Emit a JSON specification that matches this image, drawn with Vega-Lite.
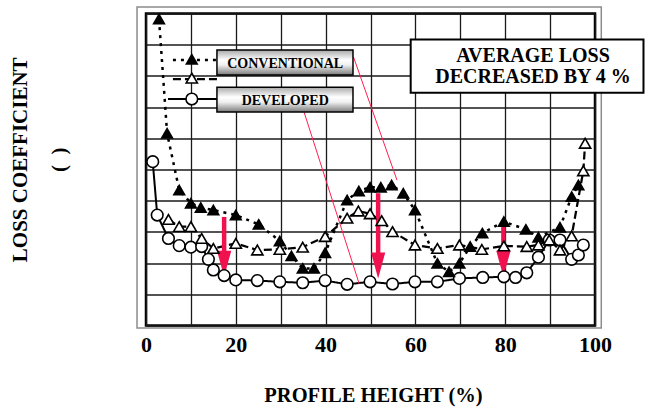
{
  "$schema": "https://vega.github.io/schema/vega-lite/v6.json",
  "width": 449,
  "height": 312,
  "autosize": {"type": "none"},
  "padding": {"left": 146, "top": 13.5, "right": 52, "bottom": 82.5},
  "config": {
    "view": {"stroke": "black", "strokeWidth": 2.5},
    "font": "Liberation Serif",
    "axisX": {
      "values": [0, 10, 20, 30, 40, 50, 60, 70, 80, 90, 100],
      "labelExpr": "datum.value % 20 === 0 ? datum.label : ''",
      "grid": true, "gridColor": "#1a1a1a", "gridWidth": 1.3,
      "ticks": false, "tickSize": 0, "domain": false,
      "labelFont": "Liberation Serif", "labelFontWeight": "bold", "labelFontSize": 22, "labelColor": "black",
      "labelPadding": 25.5, "labelBaseline": "alphabetic", "labelFlush": false, "labelOverlap": false,
      "titleFont": "Liberation Serif", "titleFontWeight": "bold", "titleFontSize": 20.5, "titleColor": "black",
      "titleX": 227, "titleY": 76, "titleAlign": "center", "titleBaseline": "alphabetic"
    },
    "axisY": {
      "values": [0, 1, 2, 3, 4, 5, 6, 7, 8, 9, 10],
      "grid": true, "gridColor": "#1a1a1a", "gridWidth": 1.3,
      "ticks": false, "labels": false, "domain": false,
      "titleFont": "Liberation Serif", "titleFontWeight": "bold", "titleFontSize": 21, "titleColor": "black",
      "titleAngle": 270, "titleX": -119.3, "titleY": 145.8, "titleAlign": "center", "titleBaseline": "alphabetic",
      "titleLineHeight": 39
    }
  },
  "datasets": {
    "curves": [
      {"s": "dev", "x": 1.5, "y": 5.25}, {"s": "dev", "x": 2.5, "y": 3.54}, {"s": "dev", "x": 5.0, "y": 2.79},
      {"s": "dev", "x": 7.4, "y": 2.56}, {"s": "dev", "x": 10.0, "y": 2.51}, {"s": "dev", "x": 12.4, "y": 2.53},
      {"s": "dev", "x": 13.9, "y": 2.12}, {"s": "dev", "x": 15.0, "y": 1.78}, {"s": "dev", "x": 17.4, "y": 1.6},
      {"s": "dev", "x": 20.0, "y": 1.46}, {"s": "dev", "x": 24.8, "y": 1.44}, {"s": "dev", "x": 29.8, "y": 1.4},
      {"s": "dev", "x": 34.9, "y": 1.37}, {"s": "dev", "x": 39.9, "y": 1.44}, {"s": "dev", "x": 44.8, "y": 1.32},
      {"s": "dev", "x": 49.9, "y": 1.4}, {"s": "dev", "x": 54.9, "y": 1.33}, {"s": "dev", "x": 59.9, "y": 1.4},
      {"s": "dev", "x": 64.9, "y": 1.4}, {"s": "dev", "x": 69.8, "y": 1.51}, {"s": "dev", "x": 75.0, "y": 1.54},
      {"s": "dev", "x": 79.7, "y": 1.56}, {"s": "dev", "x": 82.3, "y": 1.54}, {"s": "dev", "x": 84.8, "y": 1.69},
      {"s": "dev", "x": 87.4, "y": 2.19}, {"s": "dev", "x": 89.8, "y": 2.74}, {"s": "dev", "x": 92.2, "y": 2.74},
      {"s": "dev", "x": 94.8, "y": 2.12}, {"s": "dev", "x": 96.3, "y": 2.26}, {"s": "dev", "x": 97.4, "y": 2.58},

      {"s": "conv1", "x": 2.9, "y": 9.82}, {"s": "conv1", "x": 4.7, "y": 6.16}, {"s": "conv1", "x": 7.4, "y": 4.34},
      {"s": "conv1", "x": 10.0, "y": 3.92}, {"s": "conv1", "x": 12.2, "y": 3.78}, {"s": "conv1", "x": 15.0, "y": 3.7},
      {"s": "conv1", "x": 20.0, "y": 3.54}, {"s": "conv1", "x": 25.1, "y": 3.24}, {"s": "conv1", "x": 29.8, "y": 2.71},
      {"s": "conv1", "x": 32.4, "y": 2.23}, {"s": "conv1", "x": 34.9, "y": 1.83}, {"s": "conv1", "x": 37.4, "y": 1.83},
      {"s": "conv1", "x": 39.9, "y": 2.33}, {"s": "conv1", "x": 44.8, "y": 4.02}, {"s": "conv1", "x": 47.4, "y": 4.31},
      {"s": "conv1", "x": 49.9, "y": 4.43}, {"s": "conv1", "x": 52.3, "y": 4.43}, {"s": "conv1", "x": 54.7, "y": 4.5},
      {"s": "conv1", "x": 57.3, "y": 4.24}, {"s": "conv1", "x": 59.9, "y": 3.7}, {"s": "conv1", "x": 64.9, "y": 1.99},
      {"s": "conv1", "x": 67.5, "y": 1.72}, {"s": "conv1", "x": 69.8, "y": 1.99}, {"s": "conv1", "x": 72.2, "y": 2.53},
      {"s": "conv1", "x": 74.9, "y": 2.96}, {"s": "conv1", "x": 79.7, "y": 3.33}, {"s": "conv1", "x": 84.6, "y": 3.08},
      {"s": "conv1", "x": 87.4, "y": 2.83}, {"s": "conv1", "x": 92.2, "y": 3.15}, {"s": "conv1", "x": 94.8, "y": 4.13},
      {"s": "conv1", "x": 96.3, "y": 4.5},

      {"s": "conv2", "x": 5.0, "y": 3.4}, {"s": "conv2", "x": 7.4, "y": 3.17}, {"s": "conv2", "x": 10.0, "y": 3.17},
      {"s": "conv2", "x": 12.4, "y": 2.79}, {"s": "conv2", "x": 15.0, "y": 2.47}, {"s": "conv2", "x": 20.0, "y": 2.63},
      {"s": "conv2", "x": 24.8, "y": 2.42}, {"s": "conv2", "x": 29.8, "y": 2.44}, {"s": "conv2", "x": 34.9, "y": 2.51},
      {"s": "conv2", "x": 39.9, "y": 2.85}, {"s": "conv2", "x": 44.8, "y": 3.44}, {"s": "conv2", "x": 47.3, "y": 3.67},
      {"s": "conv2", "x": 49.9, "y": 3.58}, {"s": "conv2", "x": 52.5, "y": 3.36}, {"s": "conv2", "x": 54.9, "y": 3.01},
      {"s": "conv2", "x": 59.9, "y": 2.58}, {"s": "conv2", "x": 64.9, "y": 2.47}, {"s": "conv2", "x": 69.8, "y": 2.58},
      {"s": "conv2", "x": 74.8, "y": 2.44}, {"s": "conv2", "x": 79.7, "y": 2.55}, {"s": "conv2", "x": 84.8, "y": 2.53},
      {"s": "conv2", "x": 87.4, "y": 2.58}, {"s": "conv2", "x": 89.8, "y": 2.74}, {"s": "conv2", "x": 92.2, "y": 2.42},
      {"s": "conv2", "x": 94.8, "y": 2.87}, {"s": "conv2", "x": 97.4, "y": 4.96}, {"s": "conv2", "x": 97.8, "y": 5.84}
    ],
    "legendLines": [
      {"s": "conv1", "x": 6.0, "x2": 15.8, "y": 8.51},
      {"s": "conv2", "x": 6.0, "x2": 15.8, "y": 7.9},
      {"s": "dev", "x": 4.9, "x2": 15.8, "y": 7.26}
    ],
    "legendPts": [
      {"s": "conv1", "x": 10.2, "y": 8.53},
      {"s": "conv2", "x": 10.2, "y": 7.93},
      {"s": "dev", "x": 10.2, "y": 7.26}
    ],
    "legendBoxes": [
      {"x": 15.8, "x2": 46.1, "y": 8.83, "y2": 8.03},
      {"x": 15.8, "x2": 46.1, "y": 7.64, "y2": 6.84}
    ],
    "legendText": [
      {"x": 31.0, "y": 8.24, "t": "CONVENTIONAL"},
      {"x": 31.0, "y": 7.07, "t": "DEVELOPED"}
    ],
    "pointers": [
      {"x": 46.2, "y": 8.61, "x2": 55.9, "y2": 4.66},
      {"x": 35.2, "y": 6.84, "x2": 47.5, "y2": 1.33}
    ],
    "arrows": [
      {"x": 17.4, "y": 3.48, "y2": 1.56},
      {"x": 51.7, "y": 4.24, "y2": 1.51},
      {"x": 79.6, "y": 3.24, "y2": 1.56}
    ],
    "noteBox": [{"x": 58.95, "x2": 110.8, "y": 9.17, "y2": 7.46}],
    "noteText": [
      {"x": 86.2, "y": 8.455, "t": "AVERAGE LOSS"},
      {"x": 86.2, "y": 7.76, "t": "DECREASED BY 4 %"}
    ],
    "outer": [{"x": -2.0, "x2": 101.4, "y": 10.21, "y2": -0.08}]
  },
  "layer": [
    {
      "data": {"name": "outer"},
      "mark": {"type": "rect", "filled": false, "stroke": "#8c8c8c", "strokeWidth": 1.5},
      "encoding": {
        "x": {"field": "x", "type": "quantitative", "scale": {"domain": [0, 100], "nice": false, "zero": false}, "title": "PROFILE HEIGHT (%)"},
        "x2": {"field": "x2"},
        "y": {"field": "y", "type": "quantitative", "scale": {"domain": [0, 10], "nice": false, "zero": false}, "title": ["LOSS COEFFICIENT", "\u00a0\u00a0\u00a0\u00a0\u00a0\u00a0(\u00a0\u00a0)"]},
        "y2": {"field": "y2"}
      }
    },
    {
      "data": {"name": "curves"},
      "mark": {"type": "line", "color": "black"},
      "encoding": {
        "x": {"field": "x", "type": "quantitative"},
        "y": {"field": "y", "type": "quantitative"},
        "strokeDash": {"field": "s", "type": "nominal", "scale": {"domain": ["conv1", "conv2", "dev"], "range": [[3, 5], [8, 4], [1, 0]]}, "legend": null},
        "strokeWidth": {"field": "s", "type": "nominal", "scale": {"domain": ["conv1", "conv2", "dev"], "range": [2.5, 2, 2]}, "legend": null}
      }
    },
    {
      "data": {"name": "legendLines"},
      "mark": {"type": "rule", "color": "black"},
      "encoding": {
        "x": {"field": "x", "type": "quantitative"},
        "x2": {"field": "x2"},
        "y": {"field": "y", "type": "quantitative"},
        "strokeDash": {"field": "s", "type": "nominal", "legend": null},
        "strokeWidth": {"field": "s", "type": "nominal", "legend": null}
      }
    },
    {
      "data": {"name": "pointers"},
      "mark": {"type": "rule", "color": "#ff1f4f", "strokeWidth": 1},
      "encoding": {
        "x": {"field": "x", "type": "quantitative"},
        "x2": {"field": "x2"},
        "y": {"field": "y", "type": "quantitative"},
        "y2": {"field": "y2"}
      }
    },
    {
      "data": {"name": "arrows"},
      "mark": {"type": "rule", "color": "#f0124e", "strokeWidth": 4.5, "strokeCap": "butt", "y2Offset": -14},
      "encoding": {
        "x": {"field": "x", "type": "quantitative"},
        "y": {"field": "y", "type": "quantitative"},
        "y2": {"field": "y2"}
      }
    },
    {
      "data": {"name": "arrows"},
      "mark": {"type": "point", "filled": true, "color": "#f0124e", "opacity": 1, "shape": "M-0.55,-1L0.55,-1L0,1Z", "size": 676, "yOffset": -13},
      "encoding": {
        "x": {"field": "x", "type": "quantitative"},
        "y": {"field": "y2", "type": "quantitative"}
      }
    },
    {
      "data": {"name": "curves"},
      "mark": {"type": "point", "filled": true, "stroke": "black", "strokeWidth": 1.6, "opacity": 1},
      "encoding": {
        "x": {"field": "x", "type": "quantitative"},
        "y": {"field": "y", "type": "quantitative"},
        "shape": {"field": "s", "type": "nominal", "scale": {"domain": ["conv1", "conv2", "dev"], "range": ["M0,-0.866L1,0.866L-1,0.866Z", "M0,-0.866L1,0.866L-1,0.866Z", "circle"]}, "legend": null},
        "fill": {"field": "s", "type": "nominal", "scale": {"domain": ["conv1", "conv2", "dev"], "range": ["black", "white", "white"]}, "legend": null},
        "size": {"field": "s", "type": "nominal", "scale": {"domain": ["conv1", "conv2", "dev"], "range": [115, 135, 100]}, "legend": null}
      }
    },
    {
      "data": {"name": "legendBoxes"},
      "mark": {
        "type": "rect", "stroke": "black", "strokeWidth": 1.5,
        "fill": {"gradient": "linear", "x1": 0, "y1": 0, "x2": 0, "y2": 1,
          "stops": [{"offset": 0, "color": "#a8a8a8"}, {"offset": 0.4, "color": "#ffffff"}, {"offset": 0.6, "color": "#f0f0f0"}, {"offset": 1, "color": "#7a7a7a"}]}
      },
      "encoding": {
        "x": {"field": "x", "type": "quantitative"},
        "x2": {"field": "x2"},
        "y": {"field": "y", "type": "quantitative"},
        "y2": {"field": "y2"}
      }
    },
    {
      "data": {"name": "legendText"},
      "mark": {"type": "text", "font": "Liberation Serif", "fontWeight": "bold", "fontSize": 14, "color": "black", "align": "center", "baseline": "alphabetic"},
      "encoding": {
        "x": {"field": "x", "type": "quantitative"},
        "y": {"field": "y", "type": "quantitative"},
        "text": {"field": "t"}
      }
    },
    {
      "data": {"name": "legendPts"},
      "mark": {"type": "point", "filled": true, "stroke": "black", "strokeWidth": 1.6, "opacity": 1},
      "encoding": {
        "x": {"field": "x", "type": "quantitative"},
        "y": {"field": "y", "type": "quantitative"},
        "shape": {"field": "s", "type": "nominal", "legend": null},
        "fill": {"field": "s", "type": "nominal", "legend": null},
        "size": {"field": "s", "type": "nominal", "legend": null}
      }
    },
    {
      "data": {"name": "noteBox"},
      "mark": {"type": "rect", "fill": "white", "stroke": "black", "strokeWidth": 2},
      "encoding": {
        "x": {"field": "x", "type": "quantitative"},
        "x2": {"field": "x2"},
        "y": {"field": "y", "type": "quantitative"},
        "y2": {"field": "y2"}
      }
    },
    {
      "data": {"name": "noteText"},
      "mark": {"type": "text", "font": "Liberation Serif", "fontWeight": "bold", "fontSize": 20, "color": "black", "align": "center", "baseline": "alphabetic"},
      "encoding": {
        "x": {"field": "x", "type": "quantitative"},
        "y": {"field": "y", "type": "quantitative"},
        "text": {"field": "t"}
      }
    }
  ]
}
